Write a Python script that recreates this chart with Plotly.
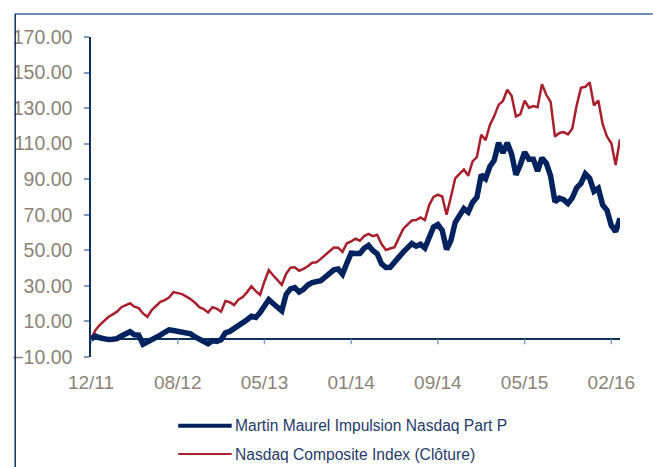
import plotly.graph_objects as go

# ---------------- data ----------------
tick_labels = ["12/11", "08/12", "05/13", "01/14", "09/14", "05/15", "02/16"]
tick_positions = [0, 20, 40, 60, 80, 100, 120]

fund_name = "Martin Maurel Impulsion Nasdaq Part P"
index_name = "Nasdaq Composite Index (Clôture)"

fund = [
    0, 1.8, 0.8, 0, -0.2, 0, 0.3, 1.8, 3.1, 4.2,
    2.5, 2.3, -2.8, -1.7, -0.7, 0.7, 2.3, 3.9, 5.3, 4.9,
    4.4, 3.8, 3.7, 3.0, 1.3, -0.2, -1.0, -2.5, -0.8, -1.2,
    -0.3, 3.6, 4.4, 5.9, 7.5, 8.8, 11.0, 12.9, 12.3, 15.0,
    18.8, 22.3, 20.1, 17.6, 16.0, 25.2, 28.3, 29.0, 26.5, 28.0,
    30.5, 31.8, 32.3, 32.9, 34.9, 37.5, 39.0, 39.5, 36.6, 42.7,
    48.4, 48.2, 48.2, 51.2, 52.8, 49.9, 48.1, 42.4, 40.4, 40.5,
    42.9, 46.2, 49.0, 51.4, 53.8, 52.3, 53.4, 51.3, 57.0, 63.1,
    64.5, 61.2, 50.5, 55.5, 65.8, 69.2, 73.5, 71.5, 77.0, 79.8,
    92.5, 90.3, 97.2, 100.7, 110.5, 104.8, 110.5, 104.2, 92.5, 98.0,
    105.2, 101.3, 101.3, 94.6, 102.0, 99.0, 91.8, 77.3, 79.4, 78.5,
    76.3, 79.5, 85.1, 87.6, 93.0, 90.5, 83.2, 84.9, 75.5, 72.5,
    64.0, 60.5, 68.0,
]

nasdaq = [
    0, 5.0, 8.0, 10.5, 12.5, 14.0, 15.5, 18.0, 19.2, 20.2,
    18.3, 17.5, 14.5, 12.6, 16.4, 18.8, 21.0, 22.0, 23.5, 26.5,
    26.0, 25.4, 24.0, 22.5, 20.5, 18.0, 17.0, 15.0, 18.0, 17.2,
    15.5, 21.5, 20.8, 19.2, 22.2, 23.7, 26.5, 29.8, 27.0, 25.0,
    32.5, 38.8, 36.0, 33.0, 30.6, 36.8, 40.2, 40.5, 38.5, 39.6,
    41.0, 43.0, 43.3, 45.2, 47.2, 49.5, 51.6, 51.5, 49.1, 54.0,
    55.0, 56.5, 55.4, 58.0, 59.2, 58.0, 58.8, 53.5, 50.2, 51.0,
    51.8, 57.0, 62.0, 64.5, 66.8, 67.0, 68.5, 67.0, 75.5, 80.0,
    81.3, 80.3, 70.0, 80.0, 90.5, 93.0, 95.5, 92.0, 100.0, 102.5,
    115.0, 112.0, 120.5, 125.5, 131.8, 134.0, 140.3, 137.0, 125.3, 126.5,
    134.2, 130.2, 131.1, 130.5, 143.5, 137.5, 133.5, 114.0, 116.0, 116.5,
    115.2, 118.5, 131.5, 141.4, 142.0, 144.5, 131.5, 134.3, 121.0, 114.0,
    110.2, 98.0, 112.5,
]

x = list(range(len(fund)))

# ---------------- style ----------------
NAVY = "#00225f"
RED = "#a8202c"
AXIS = "#10305c"
TICKC = "#7f9cc3"
GRAY = "#8a8277"
LEG = "#1f3a68"
FONT = "Liberation Sans, Arial, sans-serif"

W, H = 653, 467
L, R, T, B = 86, 33, 37, 110
PW, PH = W - L - R, H - T - B


def px(xp):
    return (xp - L) / PW


def py(yp):
    return (H - B - yp) / PH


fig = go.Figure()
fig.add_trace(go.Scatter(x=x, y=nasdaq, mode="lines", name=index_name,
                         line=dict(color=RED, width=2.5), showlegend=False))
fig.add_trace(go.Scatter(x=x, y=fund, mode="lines", name=fund_name,
                         line=dict(color=NAVY, width=5.5), showlegend=False))

shapes = []
# x tick marks hanging from the zero line
for p in tick_positions:
    shapes.append(dict(type="line", xref="x", yref="y", x0=p, x1=p,
                       ysizemode="pixel", yanchor=0, y0=0, y1=-5,
                       line=dict(color=TICKC, width=1.5)))
# frame lines
shapes.append(dict(type="line", xref="paper", yref="paper",
                   x0=px(9), x1=px(653), y0=py(14), y1=py(14),
                   line=dict(color="#6f8db5", width=2)))
shapes.append(dict(type="line", xref="paper", yref="paper",
                   x0=px(9.5), x1=px(9.5), y0=py(14), y1=py(467),
                   line=dict(color=AXIS, width=1.5)))
# legend samples
shapes.append(dict(type="line", xref="paper", yref="paper",
                   x0=px(174), x1=px(228), y0=py(425.7), y1=py(425.7),
                   line=dict(color=NAVY, width=4)))
shapes.append(dict(type="line", xref="paper", yref="paper",
                   x0=px(174), x1=px(228), y0=py(454), y1=py(454),
                   line=dict(color=RED, width=2.2)))

annotations = [
    dict(xref="paper", yref="paper", x=px(229.5), y=py(425.7), text=fund_name,
         showarrow=False, xanchor="left", yanchor="middle",
         font=dict(family=FONT, size=15.6, color=LEG)),
    dict(xref="paper", yref="paper", x=px(229.5), y=py(454), text=index_name,
         showarrow=False, xanchor="left", yanchor="middle",
         font=dict(family=FONT, size=15.6, color=LEG)),
]

fig.update_layout(
    width=W, height=H, autosize=False,
    margin=dict(l=L, r=R, t=T, b=B, pad=0),
    paper_bgcolor="white", plot_bgcolor="white",
    font=dict(family=FONT, color=GRAY),
    showlegend=False,
    shapes=shapes,
    annotations=annotations,
    xaxis=dict(range=[0, len(fund) - 1], tickmode="array",
               tickvals=tick_positions, ticktext=tick_labels,
               showgrid=False, zeroline=False, showline=False, ticks="",
               tickfont=dict(family=FONT, size=19, color=GRAY),
               ticklabelstandoff=12, fixedrange=True),
    yaxis=dict(range=[-10, 170], tickmode="array",
               tickvals=list(range(-10, 171, 20)), tickformat=".2f",
               showgrid=False, zeroline=True, zerolinecolor=AXIS,
               zerolinewidth=1.5, showline=True, linecolor=AXIS, linewidth=1.5,
               ticks="outside", ticklen=5, tickwidth=1.5, tickcolor=TICKC,
               tickfont=dict(family=FONT, size=19.5, color=GRAY),
               ticklabelstandoff=8, fixedrange=True),
)

fig.write_html(
    "out.html",
    config={"displayModeBar": False},
    post_script="document.body.style.margin='0';document.body.style.overflow='hidden';",
)
